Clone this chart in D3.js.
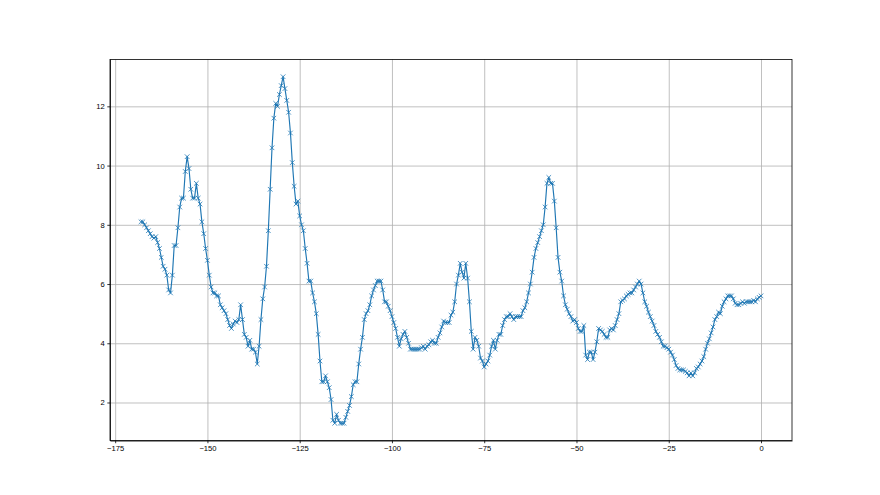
<!DOCTYPE html>
<html>
<head>
<meta charset="utf-8">
<script src="https://cdn.jsdelivr.net/npm/d3@7"></script>
<style>
  body { margin: 0; background: #fff; }
  svg { display: block; font-family: "DejaVu Sans", sans-serif; }
  .grid line { stroke: #b0b0b0; stroke-width: 0.8; }
  .grid path { display: none; }
  .axis path, .axis line { stroke: #000; stroke-width: 0.8; }
  .axis text { font-size: 7.6px; fill: #000; }
</style>
</head>
<body>
<svg width="880" height="495"></svg>
<script>
// sample positions (every half unit)
let xValues = [
  -168, -167.5, -167, -166.5, -166, -165.5, -165, -164.5, -164, -163.5,
  -163, -162.5, -162, -161.5, -161, -160.5, -160, -159.5, -159, -158.5,
  -158, -157.5, -157, -156.5, -156, -155.5, -155, -154.5, -154, -153.5,
  -153, -152.5, -152, -151.5, -151, -150.5, -150, -149.5, -149, -148.5,
  -148, -147.5, -147, -146.5, -146, -145.5, -145, -144.5, -144, -143.5,
  -143, -142.5, -142, -141.5, -141, -140.5, -140, -139.5, -139, -138.5,
  -138, -137.5, -137, -136.5, -136, -135.5, -135, -134.5, -134, -133.5,
  -133, -132.5, -132, -131.5, -131, -130.5, -130, -129.5, -129, -128.5,
  -128, -127.5, -127, -126.5, -126, -125.5, -125, -124.5, -124, -123.5,
  -123, -122.5, -122, -121.5, -121, -120.5, -120, -119.5, -119, -118.5,
  -118, -117.5, -117, -116.5, -116, -115.5, -115, -114.5, -114, -113.5,
  -113, -112.5, -112, -111.5, -111, -110.5, -110, -109.5, -109, -108.5,
  -108, -107.5, -107, -106.5, -106, -105.5, -105, -104.5, -104, -103.5,
  -103, -102.5, -102, -101.5, -101, -100.5, -100, -99.5, -99, -98.5,
  -98, -97.5, -97, -96.5, -96, -95.5, -95, -94.5, -94, -93.5,
  -93, -92.5, -92, -91.5, -91, -90.5, -90, -89.5, -89, -88.5,
  -88, -87.5, -87, -86.5, -86, -85.5, -85, -84.5, -84, -83.5,
  -83, -82.5, -82, -81.5, -81, -80.5, -80, -79.5, -79, -78.5,
  -78, -77.5, -77, -76.5, -76, -75.5, -75, -74.5, -74, -73.5,
  -73, -72.5, -72, -71.5, -71, -70.5, -70, -69.5, -69, -68.5,
  -68, -67.5, -67, -66.5, -66, -65.5, -65, -64.5, -64, -63.5,
  -63, -62.5, -62, -61.5, -61, -60.5, -60, -59.5, -59, -58.5,
  -58, -57.5, -57, -56.5, -56, -55.5, -55, -54.5, -54, -53.5,
  -53, -52.5, -52, -51.5, -51, -50.5, -50, -49.5, -49, -48.5,
  -48, -47.5, -47, -46.5, -46, -45.5, -45, -44.5, -44, -43.5,
  -43, -42.5, -42, -41.5, -41, -40.5, -40, -39.5, -39, -38.5,
  -38, -37.5, -37, -36.5, -36, -35.5, -35, -34.5, -34, -33.5,
  -33, -32.5, -32, -31.5, -31, -30.5, -30, -29.5, -29, -28.5,
  -28, -27.5, -27, -26.5, -26, -25.5, -25, -24.5, -24, -23.5,
  -23, -22.5, -22, -21.5, -21, -20.5, -20, -19.5, -19, -18.5,
  -18, -17.5, -17, -16.5, -16, -15.5, -15, -14.5, -14, -13.5,
  -13, -12.5, -12, -11.5, -11, -10.5, -10, -9.5, -9, -8.5,
  -8, -7.5, -7, -6.5, -6, -5.5, -5, -4.5, -4, -3.5,
  -3, -2.5, -2, -1.5, -1, -0.5, 0
];

// values
let yValues = [
  8.1, 8.1, 8.0, 7.9, 7.8, 7.7, 7.6, 7.55, 7.6, 7.4,
  7.2, 6.9, 6.6, 6.5, 6.3, 5.8, 5.7, 6.3, 7.3, 7.3,
  7.9, 8.6, 8.9, 8.9, 9.8, 10.3, 9.9, 9.2, 8.9, 8.9,
  9.4, 8.9, 8.7, 8.1, 7.7, 7.2, 6.8, 6.3, 5.9, 5.7,
  5.7, 5.6, 5.6, 5.3, 5.2, 5.1, 5.0, 4.8, 4.6, 4.5,
  4.65, 4.75, 4.7, 4.8, 5.3, 4.8, 4.3, 4.2, 3.9, 4.1,
  3.8, 3.8, 3.7, 3.3, 3.9, 4.8, 5.5, 5.9, 6.6, 7.8,
  9.2, 10.6, 11.6, 12.1, 12.0, 12.4, 12.7, 13.0, 12.6, 12.2,
  11.8, 11.1, 10.1, 9.3, 8.7, 8.8, 8.3, 8.0, 7.8, 7.2,
  6.7, 6.1, 6.1, 5.7, 5.4, 5.0, 4.3, 3.4, 2.7, 2.7,
  2.9, 2.7, 2.5, 2.1, 1.4, 1.3, 1.6, 1.4, 1.3, 1.3,
  1.3, 1.5, 1.7, 1.9, 2.2, 2.6, 2.7, 2.7, 3.3, 3.8,
  4.2, 4.8, 5.0, 5.1, 5.3, 5.6, 5.8, 5.95, 6.1, 6.1,
  6.1, 5.8, 5.4, 5.4, 5.25, 5.1, 4.9, 4.7, 4.5, 4.2,
  3.9, 4.15, 4.3, 4.4, 4.2, 4.0, 3.8, 3.8, 3.8, 3.8,
  3.8, 3.8, 3.85, 3.9, 3.8, 3.9, 3.95, 4.05, 4.1, 4.0,
  4.0, 4.2, 4.35, 4.55, 4.75, 4.7, 4.7, 4.7, 4.95, 5.05,
  5.4, 6.0, 6.3, 6.7, 6.4, 6.2, 6.7, 6.2, 5.4, 4.4,
  3.8, 4.2, 4.1, 3.9, 3.5, 3.4, 3.2, 3.3, 3.4, 3.6,
  3.9, 4.1, 3.8, 4.1, 4.3, 4.3, 4.6, 4.8, 4.9, 4.9,
  5.0, 4.9, 4.8, 4.9, 4.9, 4.9, 4.9, 5.1, 5.2, 5.4,
  5.7, 6.0, 6.4, 6.9, 7.2, 7.4, 7.6, 7.8, 8.0, 8.6,
  9.4, 9.6, 9.4, 9.4, 8.8, 7.9, 6.9, 6.4, 6.1, 5.6,
  5.3, 5.15, 5.0, 4.9, 4.75, 4.8, 4.7, 4.5, 4.4, 4.4,
  4.6, 3.6, 3.45, 3.7, 3.7, 3.45, 3.7, 4.05, 4.5, 4.45,
  4.4, 4.3, 4.2, 4.2, 4.45, 4.5, 4.45, 4.6, 4.8, 5.0,
  5.4, 5.45, 5.5, 5.6, 5.65, 5.7, 5.7, 5.8, 5.9, 6.0,
  6.1, 6.0, 5.7, 5.4, 5.25, 5.05, 4.9, 4.75, 4.6, 4.4,
  4.3, 4.2, 4.05, 3.9, 3.9, 3.85, 3.8, 3.7, 3.6, 3.45,
  3.25, 3.15, 3.1, 3.1, 3.1, 3.05, 3.0, 2.9, 3.0, 2.9,
  3.0, 3.15, 3.2, 3.3, 3.4, 3.55, 3.8, 4.0, 4.15, 4.35,
  4.55, 4.8, 4.9, 5.05, 5.0, 5.25, 5.4, 5.5, 5.6, 5.6,
  5.6, 5.5, 5.35, 5.3, 5.3, 5.35, 5.4, 5.35, 5.4, 5.4,
  5.4, 5.4, 5.45, 5.4, 5.5, 5.55, 5.6
];

let xTicks = [-175, -150, -125, -100, -75, -50, -25, 0];
let yTicks = [2, 4, 6, 8, 10, 12];

let svg = d3.select("svg"),
    width = +svg.attr("width"),
    height = +svg.attr("height");

// matplotlib default subplot box
let margin = {left: width * 0.125, right: width * 0.1, top: height * 0.12, bottom: height * 0.11};
let plotW = width - margin.left - margin.right,
    plotH = height - margin.top - margin.bottom;

let data = xValues.map(function(x, i) { return {x: x, y: yValues[i]}; });

// 5% margins like matplotlib autoscale
let xExt = d3.extent(xValues), yExt = d3.extent(yValues);
let xPad = (xExt[1] - xExt[0]) * 0.05, yPad = (yExt[1] - yExt[0]) * 0.05;

let x = d3.scaleLinear()
    .domain([xExt[0] - xPad, xExt[1] + xPad])
    .range([0, plotW]);

let y = d3.scaleLinear()
    .domain([yExt[0] - yPad, yExt[1] + yPad])
    .range([plotH, 0]);

let g = svg.append("g")
    .attr("transform", "translate(" + margin.left + "," + margin.top + ")");

// grid
g.append("g")
    .attr("class", "grid")
    .attr("transform", "translate(0," + plotH + ")")
    .call(d3.axisBottom(x).tickValues(xTicks).tickSize(-plotH).tickFormat(""));

g.append("g")
    .attr("class", "grid")
    .call(d3.axisLeft(y).tickValues(yTicks).tickSize(-plotW).tickFormat(""));

// line
let line = d3.line()
    .x(function(d) { return x(d.x); })
    .y(function(d) { return y(d.y); });

g.append("path")
    .datum(data)
    .attr("fill", "none")
    .attr("stroke", "#1f77b4")
    .attr("stroke-width", 1.15)
    .attr("stroke-linejoin", "round")
    .attr("d", line);

// x markers
let m = 2.3;
g.append("g")
    .selectAll("path")
    .data(data)
    .enter().append("path")
    .attr("transform", function(d) { return "translate(" + x(d.x) + "," + y(d.y) + ")"; })
    .attr("d", "M" + (-m) + "," + (-m) + "L" + m + "," + m + "M" + (-m) + "," + m + "L" + m + "," + (-m))
    .attr("stroke", "#1f77b4")
    .attr("stroke-width", 0.8)
    .attr("fill", "none");

// axes
g.append("g")
    .attr("class", "axis")
    .attr("transform", "translate(0," + plotH + ")")
    .call(d3.axisBottom(x).tickValues(xTicks).tickSize(2.7).tickPadding(2.7).tickSizeOuter(0));

g.append("g")
    .attr("class", "axis")
    .call(d3.axisLeft(y).tickValues(yTicks).tickSize(2.7).tickPadding(2.7).tickSizeOuter(0));

// frame (spines)
g.append("rect")
    .attr("width", plotW)
    .attr("height", plotH)
    .attr("fill", "none")
    .attr("stroke", "#000")
    .attr("stroke-width", 0.8);
</script>
</body>
</html>
